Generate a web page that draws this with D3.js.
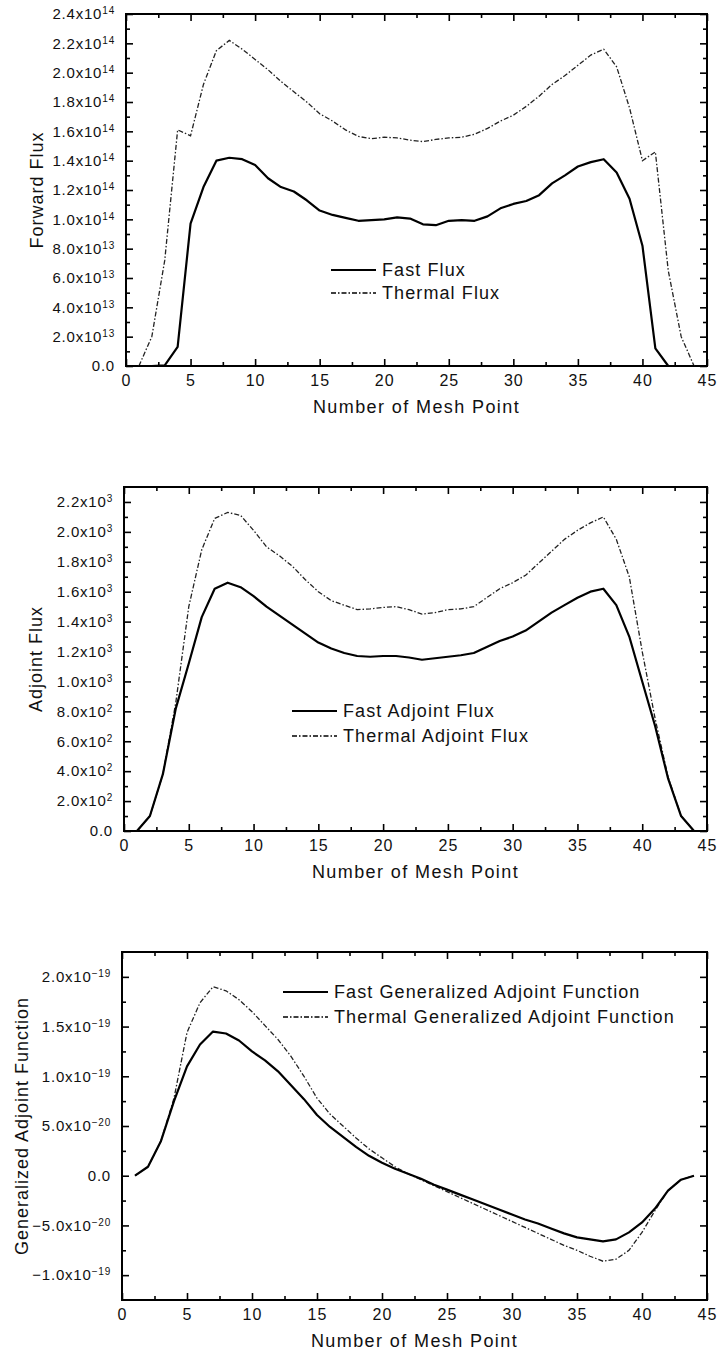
<!DOCTYPE html>
<html>
<head>
<meta charset="utf-8">
<script src="https://cdn.jsdelivr.net/npm/d3@7"></script>
<style>
  body { margin: 0; background: #fff; }
  svg text { font-family: "Liberation Sans", Arial, Helvetica, sans-serif; fill: #111; }
</style>
</head>
<body>
<div id="chart"></div>
<script>
// mesh points shared by all three panels
const meshPoints = [1, 2, 3, 4, 5, 6, 7, 8, 9, 10, 11, 12, 13, 14, 15, 16, 17, 18, 19, 20, 21, 22,
  23, 24, 25, 26, 27, 28, 29, 30, 31, 32, 33, 34, 35, 36, 37, 38, 39, 40, 41, 42, 43, 44];

// panel 1 - forward flux
const fastFlux = [0, 0, 0.005e14, 0.13e14, 0.97e14, 1.22e14, 1.40e14, 1.42e14, 1.41e14, 1.37e14, 1.28e14,
  1.22e14, 1.19e14, 1.13e14, 1.06e14, 1.03e14, 1.01e14, 0.99e14, 0.995e14, 1.0e14, 1.013e14, 1.005e14,
  0.966e14, 0.96e14, 0.99e14, 0.995e14, 0.99e14, 1.02e14, 1.075e14, 1.105e14, 1.125e14, 1.165e14,
  1.245e14, 1.30e14, 1.36e14, 1.39e14, 1.41e14, 1.32e14, 1.14e14, 0.82e14, 0.12e14, 0, 0, 0];
const thermalFlux = [0, 0.2e14, 0.72e14, 1.61e14, 1.57e14, 1.92e14, 2.15e14, 2.22e14, 2.16e14, 2.09e14, 2.02e14,
  1.94e14, 1.87e14, 1.80e14, 1.72e14, 1.67e14, 1.61e14, 1.565e14, 1.55e14, 1.56e14, 1.555e14, 1.54e14,
  1.53e14, 1.545e14, 1.555e14, 1.56e14, 1.58e14, 1.62e14, 1.67e14, 1.71e14, 1.77e14, 1.84e14,
  1.92e14, 1.98e14, 2.05e14, 2.12e14, 2.16e14, 2.04e14, 1.76e14, 1.40e14, 1.46e14, 0.65e14, 0.2e14, 0];

// panel 2 - adjoint flux
const fastAdjoint = [0, 100, 380, 820, 1120, 1430, 1620, 1660, 1630, 1570, 1500, 1440, 1380, 1320, 1260,
  1220, 1190, 1170, 1165, 1170, 1170, 1160, 1145, 1155, 1165, 1175, 1190, 1230, 1270, 1300, 1340, 1400,
  1460, 1510, 1560, 1600, 1620, 1510, 1300, 1000, 700, 350, 100, 0];
const thermalAdjoint = [0, 100, 380, 860, 1500, 1880, 2090, 2130, 2110, 2010, 1900, 1840, 1770, 1680, 1600,
  1540, 1510, 1480, 1485, 1495, 1500, 1480, 1450, 1460, 1480, 1485, 1500, 1560, 1620, 1660, 1710, 1790,
  1870, 1950, 2010, 2060, 2100, 1950, 1700, 1200, 750, 360, 100, 0];

// panel 3 - generalized adjoint function
const fastGaf = [0, 0.09e-19, 0.35e-19, 0.75e-19, 1.10e-19, 1.32e-19, 1.45e-19, 1.43e-19, 1.36e-19, 1.25e-19,
  1.16e-19, 1.05e-19, 0.91e-19, 0.77e-19, 0.61e-19, 0.49e-19, 0.39e-19, 0.29e-19, 0.20e-19, 0.13e-19,
  0.07e-19, 0.02e-19, -0.03e-19, -0.09e-19, -0.14e-19, -0.19e-19, -0.24e-19, -0.29e-19, -0.34e-19,
  -0.39e-19, -0.44e-19, -0.48e-19, -0.53e-19, -0.58e-19, -0.62e-19, -0.64e-19, -0.66e-19, -0.64e-19,
  -0.57e-19, -0.47e-19, -0.33e-19, -0.15e-19, -0.04e-19, 0];
const thermalGaf = [0, 0.09e-19, 0.35e-19, 0.78e-19, 1.44e-19, 1.74e-19, 1.90e-19, 1.86e-19, 1.77e-19, 1.65e-19,
  1.51e-19, 1.37e-19, 1.20e-19, 1.00e-19, 0.78e-19, 0.62e-19, 0.50e-19, 0.38e-19, 0.27e-19, 0.18e-19,
  0.09e-19, 0.02e-19, -0.04e-19, -0.10e-19, -0.16e-19, -0.22e-19, -0.28e-19, -0.34e-19, -0.40e-19,
  -0.46e-19, -0.52e-19, -0.58e-19, -0.64e-19, -0.70e-19, -0.75e-19, -0.81e-19, -0.86e-19, -0.84e-19,
  -0.75e-19, -0.57e-19, -0.35e-19, -0.15e-19, -0.04e-19, 0];

// ticks
const xMajorTicks = [0, 5, 10, 15, 20, 25, 30, 35, 40, 45];
const xMinorTicks = [2.5, 7.5, 12.5, 17.5, 22.5, 27.5, 32.5, 37.5, 42.5];
const yTicks1 = [0, 2e13, 4e13, 6e13, 8e13, 1e14, 1.2e14, 1.4e14, 1.6e14, 1.8e14, 2.0e14, 2.2e14, 2.4e14];
const yMinor1 = [1e13, 3e13, 5e13, 7e13, 9e13, 1.1e14, 1.3e14, 1.5e14, 1.7e14, 1.9e14, 2.1e14, 2.3e14];
const yTicks2 = [0, 200, 400, 600, 800, 1000, 1200, 1400, 1600, 1800, 2000, 2200];
const yMinor2 = [100, 300, 500, 700, 900, 1100, 1300, 1500, 1700, 1900, 2100];
const yTicks3 = [-1e-19, -5e-20, 0, 5e-20, 1e-19, 1.5e-19, 2e-19];
const yMinor3 = [-7.5e-20, -2.5e-20, 2.5e-20, 7.5e-20, 1.25e-19, 1.75e-19];

const xTitle = 'Number of Mesh Point';

const width = 721;
const height = 1354;
const plotRight = 707;
const thermalDash = '5,2,1.5,2';

const svg = d3.select('#chart')
  .append('svg')
  .attr('width', width)
  .attr('height', height);

// 2.4x10^14 style label, built from tspans
function sciLabel(textSel, v) {
  textSel.text(null);
  if (v === 0) {
    textSel.append('tspan').text('0.0');
    return;
  }
  const exp = Math.floor(Math.log10(Math.abs(v)) + 1e-9);
  const mant = (v / Math.pow(10, exp)).toFixed(1).replace('-', '\u2212');
  textSel.append('tspan').text(`${mant}x10`);
  textSel.append('tspan')
    .attr('dy', '-0.5em')
    .style('font-size', '10px')
    .text(String(exp).replace('-', '\u2212'));
}

function drawPanel(p) {
  const plotLeft = p.left;
  const x = d3.scaleLinear().domain([0, 45]).range([plotLeft, plotRight]);
  const y = d3.scaleLinear().domain(p.yDomain).range([p.bottom, p.top]);
  const g = svg.append('g');

  const styleAxis = (sel) => {
    sel.select('.domain').remove();
    sel.selectAll('line').attr('stroke', '#000').attr('stroke-width', 1.6);
  };

  // bottom axis, inward ticks
  g.append('g')
    .attr('transform', `translate(0,${p.bottom})`)
    .call(d3.axisBottom(x).tickValues(xMinorTicks).tickSize(-4).tickFormat(''))
    .call(styleAxis);
  const xAxisG = g.append('g')
    .attr('transform', `translate(0,${p.bottom})`)
    .call(d3.axisBottom(x).tickValues(xMajorTicks).tickSize(-7).tickPadding(9))
    .call(styleAxis);
  xAxisG.selectAll('text')
    .style('font-size', '16px')
    .style('letter-spacing', '1px')
    .attr('fill', '#111');

  // top axis
  g.append('g')
    .attr('transform', `translate(0,${p.top})`)
    .call(d3.axisTop(x).tickValues(xMinorTicks).tickSize(-4).tickFormat(''))
    .call(styleAxis);
  g.append('g')
    .attr('transform', `translate(0,${p.top})`)
    .call(d3.axisTop(x).tickValues(xMajorTicks).tickSize(-7).tickFormat(''))
    .call(styleAxis);

  // left axis
  g.append('g')
    .attr('transform', `translate(${plotLeft},0)`)
    .call(d3.axisLeft(y).tickValues(p.yMinor).tickSize(-4).tickFormat(''))
    .call(styleAxis);
  const yAxisG = g.append('g')
    .attr('transform', `translate(${plotLeft},0)`)
    .call(d3.axisLeft(y).tickValues(p.yTicks).tickSize(-7).tickPadding(11))
    .call(styleAxis);
  yAxisG.selectAll('text')
    .style('font-size', '15px')
    .style('letter-spacing', '0.8px')
    .attr('fill', '#111')
    .each(function (d) { sciLabel(d3.select(this), d); });

  // right axis
  g.append('g')
    .attr('transform', `translate(${plotRight},0)`)
    .call(d3.axisRight(y).tickValues(p.yMinor).tickSize(-4).tickFormat(''))
    .call(styleAxis);
  g.append('g')
    .attr('transform', `translate(${plotRight},0)`)
    .call(d3.axisRight(y).tickValues(p.yTicks).tickSize(-7).tickFormat(''))
    .call(styleAxis);

  // frame
  g.append('rect')
    .attr('x', plotLeft)
    .attr('y', p.top)
    .attr('width', plotRight - plotLeft)
    .attr('height', p.bottom - p.top)
    .attr('fill', 'none')
    .attr('stroke', '#000')
    .attr('stroke-width', 2);

  // curves
  const line = d3.line()
    .x((d) => x(d[0]))
    .y((d) => y(d[1]));

  g.append('path')
    .attr('d', line(d3.zip(meshPoints, p.thermal)))
    .attr('fill', 'none')
    .attr('stroke', '#222')
    .attr('stroke-width', 1.3)
    .attr('stroke-dasharray', thermalDash);

  g.append('path')
    .attr('d', line(d3.zip(meshPoints, p.fast)))
    .attr('fill', 'none')
    .attr('stroke', '#000')
    .attr('stroke-width', 2.2)
    .attr('stroke-linejoin', 'round');

  // legend
  const leg = g.append('g').attr('transform', `translate(${p.legendX},${p.legendY})`);
  p.legend.forEach((label, i) => {
    const row = leg.append('g').attr('transform', `translate(0,${i * p.legendGap})`);
    row.append('line')
      .attr('x1', 0).attr('x2', 45)
      .attr('y1', 0).attr('y2', 0)
      .attr('stroke', '#000')
      .attr('stroke-width', i === 0 ? 2.2 : 1.3)
      .attr('stroke-dasharray', i === 0 ? null : thermalDash);
    row.append('text')
      .attr('x', 51)
      .attr('y', 6)
      .style('font-size', '18px')
      .style('letter-spacing', '1.1px')
      .text(label);
  });

  // axis titles
  g.append('text')
    .attr('x', (plotLeft + plotRight) / 2)
    .attr('y', p.bottom + 47)
    .attr('text-anchor', 'middle')
    .style('font-size', '18px')
    .style('letter-spacing', '1.4px')
    .text(xTitle);

  g.append('text')
    .attr('transform', `translate(${p.titleX},${(p.top + p.bottom) / 2}) rotate(-90)`)
    .attr('text-anchor', 'middle')
    .style('font-size', '18px')
    .style('letter-spacing', '1px')
    .text(p.yTitle);
}

drawPanel({
  left: 126, top: 14, bottom: 366, yDomain: [0, 2.4e14],
  yTicks: yTicks1, yMinor: yMinor1,
  fast: fastFlux, thermal: thermalFlux,
  legend: ['Fast Flux', 'Thermal Flux'], legendX: 331, legendY: 270, legendGap: 23,
  yTitle: 'Forward Flux', titleX: 43,
});

drawPanel({
  left: 124, top: 487, bottom: 831, yDomain: [0, 2300],
  yTicks: yTicks2, yMinor: yMinor2,
  fast: fastAdjoint, thermal: thermalAdjoint,
  legend: ['Fast Adjoint Flux', 'Thermal Adjoint Flux'], legendX: 292, legendY: 711, legendGap: 25,
  yTitle: 'Adjoint Flux', titleX: 42,
});

drawPanel({
  left: 122, top: 952, bottom: 1300, yDomain: [-1.25e-19, 2.25e-19],
  yTicks: yTicks3, yMinor: yMinor3,
  fast: fastGaf, thermal: thermalGaf,
  legend: ['Fast Generalized Adjoint Function', 'Thermal Generalized Adjoint Function'], legendX: 283, legendY: 992, legendGap: 25,
  yTitle: 'Generalized Adjoint Function', titleX: 28,
});
</script>
</body>
</html>
